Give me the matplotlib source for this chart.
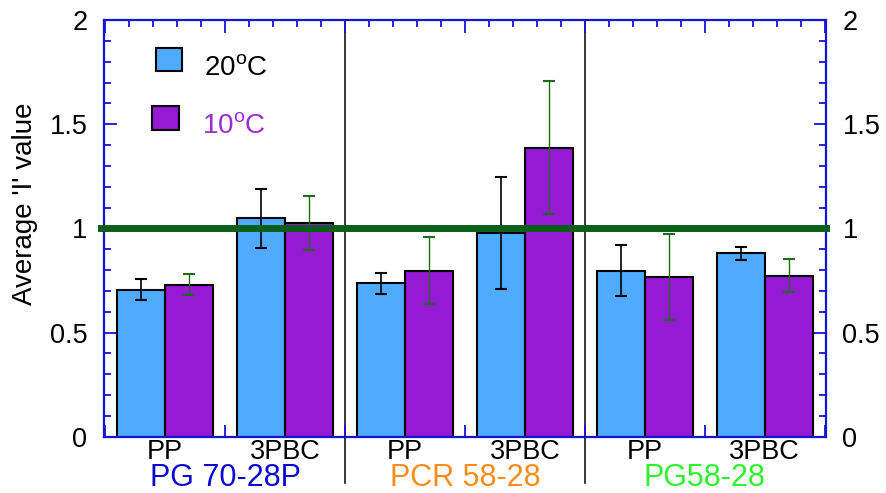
import matplotlib
matplotlib.use("Agg")
import matplotlib.pyplot as plt
from matplotlib.ticker import MultipleLocator
from matplotlib.patches import Rectangle
import numpy as np

plt.rcParams["font.family"] = ["Liberation Sans", "DejaVu Sans"]
plt.rcParams["mathtext.default"] = "regular"

# six binder/mix combos, two temperatures each
mixes = ["PP", "3PBC", "PP", "3PBC", "PP", "3PBC"]
binders = ["PG 70-28P", "PCR 58-28", "PG58-28"]
binder_colors = ["#0a0ad0", "#ff8c1a", "#2ef22e"]

i_20c = [0.706, 1.048, 0.736, 0.977, 0.797, 0.880]
err_20c = [0.050, 0.140, 0.050, 0.270, 0.124, 0.032]
i_10c = [0.730, 1.024, 0.797, 1.387, 0.767, 0.773]
err_10c = [0.050, 0.130, 0.160, 0.320, 0.206, 0.078]

blue = "#4fabff"
purple = "#9619d4"
spine_blue = "#1414d8"
line_green = "#0b5e18"

fig = plt.figure(figsize=(8.86, 4.93), dpi=100)
ax = fig.add_axes([0.1174, 0.1142, 0.8146, 0.8452])

x = np.arange(len(mixes))
w = 0.4
ax.bar(x - w / 2, i_20c, w, color=blue, edgecolor="black", linewidth=1.5, zorder=2)
ax.bar(x + w / 2, i_10c, w, color=purple, edgecolor="black", linewidth=1.5, zorder=2)
ax.errorbar(x - w / 2, i_20c, yerr=err_20c, fmt="none", ecolor="black",
            elinewidth=1.2, capsize=4, capthick=1.5, zorder=3)
ax.errorbar(x + w / 2, i_10c, yerr=err_10c, fmt="none", ecolor="#1c6b1c",
            elinewidth=1.0, capsize=4, capthick=1.5, zorder=3)

# reference line at I = 1
ax.axhline(1.0, xmin=-0.004, xmax=1.0, color=line_green, linewidth=5,
           zorder=4, clip_on=False)

ax.set_xlim(-0.51, 5.51)
ax.set_ylim(0, 2)

# binder separators running down past the axis
xt = ax.get_xaxis_transform()
for sx in [1.5, 3.5]:
    ax.plot([sx, sx], [-0.111, 1.0], color="black", linewidth=1.1,
            transform=xt, clip_on=False, zorder=1)

for xi, m in zip(x, mixes):
    ax.text(xi, -0.037, m, transform=xt, ha="center", va="center", fontsize=19.5)
for k, (b, c) in enumerate(zip(binders, binder_colors)):
    ax.text(2 * k + 0.5, -0.098, b, transform=xt, ha="center", va="center",
            fontsize=22, color=c)

ax.yaxis.set_major_locator(MultipleLocator(0.5))
ax.yaxis.set_minor_locator(MultipleLocator(0.1))
ax.xaxis.set_major_locator(MultipleLocator(1.0, offset=0.5))
ax.xaxis.set_minor_locator(MultipleLocator(0.2, offset=0.1))
ax.yaxis.set_major_formatter(plt.FuncFormatter(lambda v, p: f"{v:g}"))
ax.tick_params(which="both", direction="in", color=spine_blue, width=1.3,
               top=True, right=True, labelright=True, labelbottom=False,
               labelsize=19.5, pad=12)
ax.tick_params(which="major", length=9)
ax.tick_params(which="minor", length=5)
for s in ax.spines.values():
    s.set_color(spine_blue)
    s.set_linewidth(1.6)

ax.text(-0.109, 0.56, "Average 'I' value", transform=ax.transAxes,
        rotation=90, ha="center", va="center", fontsize=20)

# hand-placed legend
ax.add_patch(Rectangle((0.0716, 0.878), 0.0364, 0.056, transform=ax.transAxes,
                       facecolor=blue, edgecolor="black", linewidth=1.5,
                       clip_on=False, zorder=5))
ax.add_patch(Rectangle((0.0670, 0.736), 0.037, 0.057, transform=ax.transAxes,
                       facecolor=purple, edgecolor="black", linewidth=1.5,
                       clip_on=False, zorder=5))
ax.text(0.1386, 0.868, "20$^{o}$C", transform=ax.transAxes, ha="left",
        va="baseline", fontsize=20)
ax.text(0.1354, 0.728, "10$^{o}$C", transform=ax.transAxes, ha="left",
        va="baseline", fontsize=20, color="#9c2bd6")

fig.savefig("out.png", dpi=100)
